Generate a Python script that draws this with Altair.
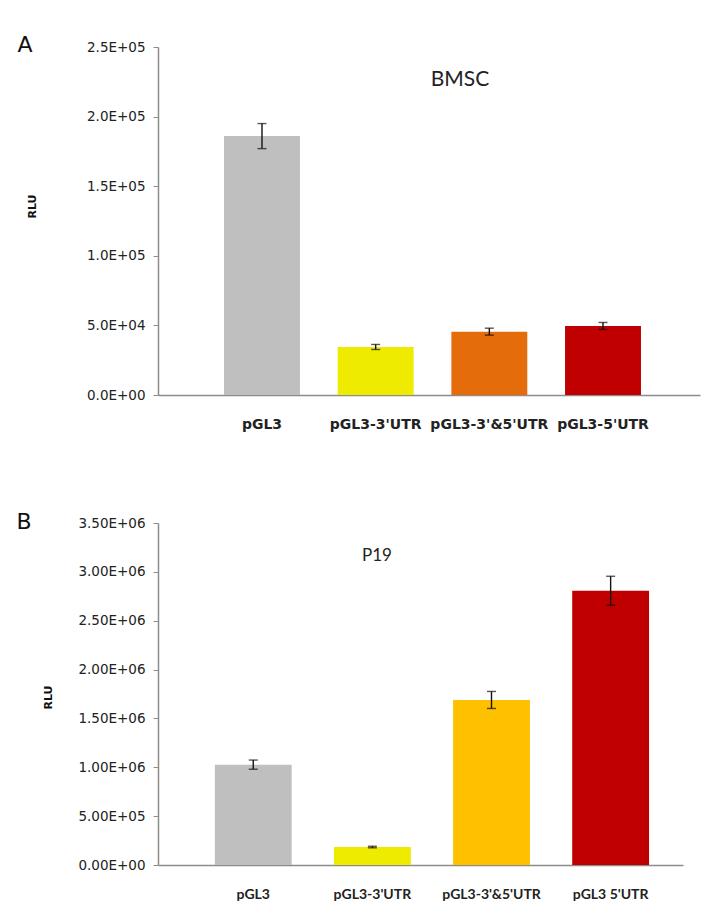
import altair as alt
import pandas as pd

# ---- Panel A (BMSC) ----
cats_a = ["pGL3", "pGL3-3'UTR", "pGL3-3'&5'UTR", "pGL3-5'UTR"]
vals_a = [186000, 34500, 45500, 49600]
err_a = [9000, 1800, 2500, 2500]
colors_a = ["#BFBFBF", "#EEEA00", "#E46C0A", "#C00000"]
ticks_a = [0, 50000, 100000, 150000, 200000, 250000]

# ---- Panel B (P19) ----
cats_b = ["pGL3", "pGL3-3'UTR", "pGL3-3'&5'UTR", "pGL3 5'UTR"]
vals_b = [1027000, 184000, 1689000, 2807000]
err_b = [47000, 8000, 87000, 148000]
colors_b = ["#BFBFBF", "#EEEA00", "#FFC000", "#C00000"]
ticks_b = [0, 500000, 1000000, 1500000, 2000000, 2500000, 3000000, 3500000]

AXIS_COLOR = "#8C8C8C"
TEXT_COLOR = "#222222"


def panel(cats, vals, errs, colors, ticks, fmt, width, height,
          pad_inner, pad_outer, align, label_font, label_size, label_pad,
          title_text, title_x, title_y, title_size,
          letter, letter_x, letter_y, rlu_x, rlu_y):
    df = pd.DataFrame({
        "cat": cats,
        "val": vals,
        "lo": [v - e for v, e in zip(vals, errs)],
        "hi": [v + e for v, e in zip(vals, errs)],
    })
    xscale = alt.Scale(domain=cats, paddingInner=pad_inner,
                       paddingOuter=pad_outer, align=align)
    yscale = alt.Scale(domain=[ticks[0], ticks[-1]], nice=False)
    x_enc = alt.X("cat:N", scale=xscale, sort=cats, title=None,
                  axis=alt.Axis(labelAngle=0, ticks=False, tickSize=0,
                                labelFont=label_font, labelFontSize=label_size,
                                labelFontWeight="bold", labelColor=TEXT_COLOR,
                                labelPadding=label_pad, domainColor=AXIS_COLOR,
                                domainWidth=1.5))
    y_axis = alt.Axis(values=ticks,
                      labelExpr=f"replace(format(datum.value, '{fmt}'), 'e+', 'E+0')",
                      grid=False, domainColor=AXIS_COLOR, tickColor=AXIS_COLOR,
                      tickSize=5, domainWidth=1.5, labelFont="DejaVu Sans",
                      labelFontSize=13.5, labelColor=TEXT_COLOR, labelPadding=8,
                      title="RLU", titleFont="DejaVu Sans", titleFontSize=11,
                      titleFontWeight="bold", titleColor="#111111",
                      titleAngle=270, titleX=rlu_x, titleY=rlu_y,
                      titleAlign="center", titleBaseline="middle")
    base = alt.Chart(df)
    bars = base.mark_bar().encode(
        x=x_enc,
        y=alt.Y("val:Q", scale=yscale, axis=y_axis),
        color=alt.Color("cat:N", scale=alt.Scale(domain=cats, range=colors),
                        legend=None),
    )
    rule = base.mark_rule(color="#111111", strokeWidth=1.4).encode(
        x=alt.X("cat:N", scale=xscale, sort=cats),
        y=alt.Y("lo:Q", scale=yscale),
        y2="hi:Q",
    )
    cap_lo = base.mark_tick(color="#111111", size=9, thickness=1.4).encode(
        x=alt.X("cat:N", scale=xscale, sort=cats),
        y=alt.Y("lo:Q", scale=yscale),
    )
    cap_hi = base.mark_tick(color="#111111", size=9, thickness=1.4).encode(
        x=alt.X("cat:N", scale=xscale, sort=cats),
        y=alt.Y("hi:Q", scale=yscale),
    )
    title = alt.Chart(pd.DataFrame({"t": [title_text]})).mark_text(
        font="Lato", fontSize=title_size, color=TEXT_COLOR,
        align="center", baseline="middle",
    ).encode(text="t:N", x=alt.value(title_x), y=alt.value(title_y))
    lab = alt.Chart(pd.DataFrame({"t": [letter]})).mark_text(
        font="DejaVu Sans", fontSize=22, color="#111111",
        align="center", baseline="middle",
    ).encode(text="t:N", x=alt.value(letter_x), y=alt.value(letter_y))
    return alt.layer(bars, rule, cap_lo, cap_hi, title, lab).properties(
        width=width, height=height)


chart_a = panel(cats_a, vals_a, err_a, colors_a, ticks_a, ".1e", 542, 348,
                0.332, 0.55, 0.528, "DejaVu Sans", 14, 22,
                "BMSC", 302, 33, 21, "A", -133, -2, -126, 159)
chart_b = panel(cats_b, vals_b, err_b, colors_b, ticks_b, ".2e", 525, 342,
                0.355, 0.381, 0.626, "Lato", 14, 22,
                "P19", 219, 33, 17, "B", -134, -1, -110, 174)

chart = alt.vconcat(chart_a, chart_b, spacing=80).resolve_scale(
    x="independent", y="independent", color="independent"
).properties(
    padding={"left": 8, "top": 26, "right": 5, "bottom": 5},
    background="white",
).configure_view(stroke=None)

chart.save("out.html", embed_options={"renderer": "svg", "actions": False})
